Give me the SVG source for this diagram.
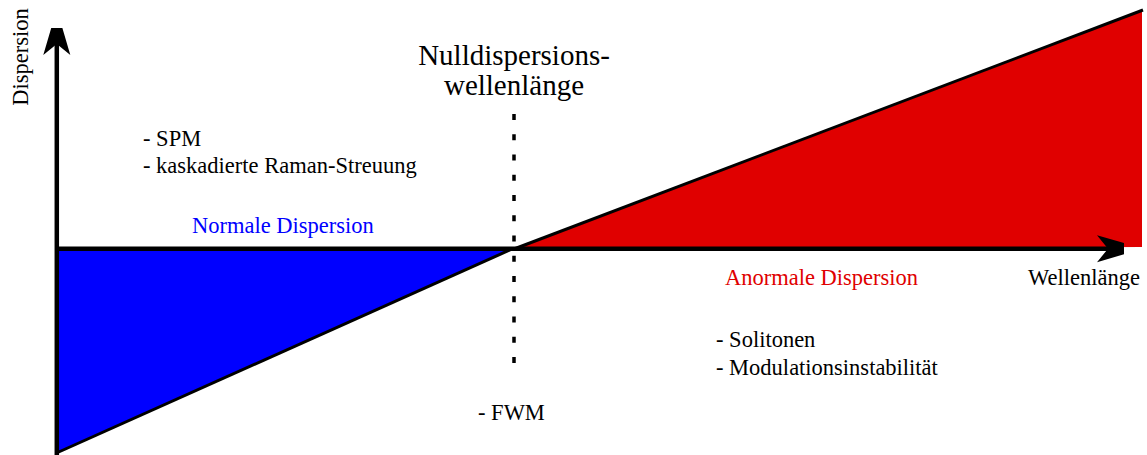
<svg xmlns="http://www.w3.org/2000/svg" width="1147" height="455" viewBox="0 0 1147 455">
  <style>
    .t { font-family: "Liberation Serif", "Times New Roman", serif; font-size: 22.5px; fill: #000; }
    .big { font-size: 29px; }
    .axis { stroke: #000; stroke-width: 4.5; fill: none; }
    .edge { stroke: #000; stroke-width: 3; fill: none; }
  </style>
  <defs>
    <marker id="head" viewBox="-36 -15 52 30" refX="0" refY="0" markerWidth="52" markerHeight="30" markerUnits="userSpaceOnUse" orient="auto">
      <path d="M35,0 L-11,-13.5 L0,0 L-11,13.5 Z" fill="#000"/>
    </marker>
  </defs>

  <!-- regions -->
  <g id="normal-region">
    <polygon points="59,250.5 510,250.5 59,452" fill="#0000ff"/>
  </g>
  <g id="anomalous-region">
    <polygon points="516,249 1142,11 1142,247" fill="#e00000"/>
  </g>

  <!-- axes, dispersion curve and zero-dispersion marker -->
  <g id="connectors">
    <line class="edge" x1="56.5" y1="453" x2="512" y2="249"/>
    <line class="edge" x1="514" y1="249" x2="1143" y2="10"/>
    <line class="axis" x1="56.8" y1="455" x2="56.8" y2="44" marker-end="url(#head)"/>
    <line class="axis" x1="55" y1="248.7" x2="1108" y2="248.7" marker-end="url(#head)"/>
    <line x1="514" y1="114" x2="514" y2="366" stroke="#000" stroke-width="3.5" stroke-dasharray="6 14.25"/>
  </g>

  <!-- labels -->
  <g id="y-label">
    <text class="t" transform="translate(28,57) rotate(-90)" text-anchor="middle">Dispersion</text>
  </g>
  <g id="x-label">
    <text class="t" x="1028" y="285">Wellenlänge</text>
  </g>
  <g id="zero-dispersion-label">
    <text class="t big" x="514" y="65" text-anchor="middle">Nulldispersions-</text>
    <text class="t big" x="514" y="95" text-anchor="middle">wellenlänge</text>
  </g>
  <g id="normal-label">
    <text class="t" x="192" y="233" fill="#0000ff" style="fill:#0000ff">Normale Dispersion</text>
    <text class="t" x="143" y="146">- SPM</text>
    <text class="t" x="143" y="173">- kaskadierte Raman-Streuung</text>
  </g>
  <g id="anomalous-label">
    <text class="t" x="725" y="285" style="fill:#e00000">Anormale Dispersion</text>
    <text class="t" x="716" y="347">- Solitonen</text>
    <text class="t" x="716" y="375">- Modulationsinstabilität</text>
  </g>
  <g id="fwm-label">
    <text class="t" x="478" y="420">- FWM</text>
  </g>
</svg>
